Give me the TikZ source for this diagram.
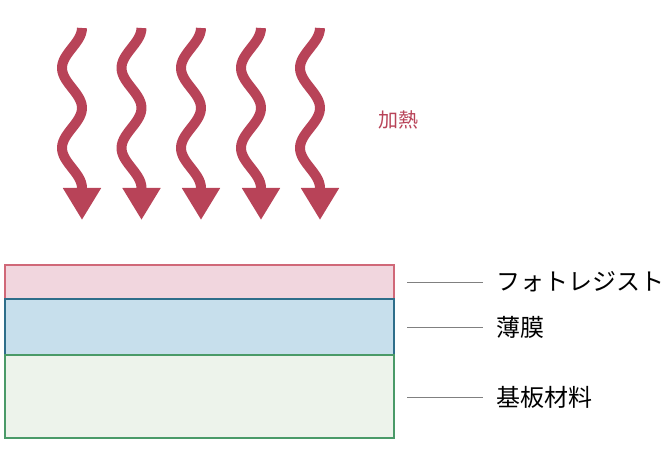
\documentclass[tikz,border=0pt]{standalone}
\usepackage{fontspec}
\newfontfamily\jp{Noto Sans CJK JP}
\usetikzlibrary{positioning,arrows.meta}

\definecolor{heat}{HTML}{B84358}
\definecolor{resistfill}{HTML}{F1D6DE}
\definecolor{resistline}{HTML}{D06878}
\definecolor{filmfill}{HTML}{C7DFEC}
\definecolor{filmline}{HTML}{2E6E8A}
\definecolor{subfill}{HTML}{EDF3EB}
\definecolor{subline}{HTML}{4A9A68}

\begin{document}
\begin{tikzpicture}[x=1pt,y=-1pt]

\def\amp{10}
\def\wtop{28}
\def\wbot{188}
\def\tip{220}
\def\lw{389}

\tikzset{wave/.style = {draw=heat, line width=10pt, -{Triangle[width=36pt,length=32pt]}},
         layer/.style = {draw, line width=1.2pt, minimum width=\lw, inner sep=0pt, outer sep=0pt},
         tag/.style = {font=\jp\fontsize{24}{28}\selectfont, inner sep=0pt, outer sep=13pt, anchor=west},
         leader/.style = {draw=gray, line width=0.9pt}}

\useasboundingbox (0,0) rectangle (670,470);

% heat waves
\foreach \cx in {82,141.5,201,261,320}
  \draw[wave] plot[variable=\t, domain=\wtop:\wbot, samples=60, smooth]
    ({\cx-\amp+\amp*cos((\t-\wtop)*4.5)}, \t) -- (\cx,\tip);

\node[text=heat, font=\jp\fontsize{20}{24}\selectfont, inner sep=0pt] (heatT) at (398,120) {加熱};

% layers
\node[layer, draw=resistline, fill=resistfill, minimum height=34, anchor=north west] (resist) at (5,265) {};
\node[layer, draw=filmline, fill=filmfill, minimum height=56, below=0pt of resist] (film) {};
\node[layer, draw=subline, fill=subfill, minimum height=83, below=0pt of film] (sub) {};

% labels
\node[tag] (resistT) at (483,282) {フォトレジスト};
\node[tag] (filmT) at (483,327) {薄膜};
\node[tag] (subT) at (483,397) {基板材料};

\coordinate (resistL) at (407,282);
\coordinate (filmL) at (407,327);
\coordinate (subL) at (407,397);

\draw[leader] (resistL) -- (resistT.west);
\draw[leader] (filmL) -- (filmT.west);
\draw[leader] (subL) -- (subT.west);

\end{tikzpicture}
\end{document}
